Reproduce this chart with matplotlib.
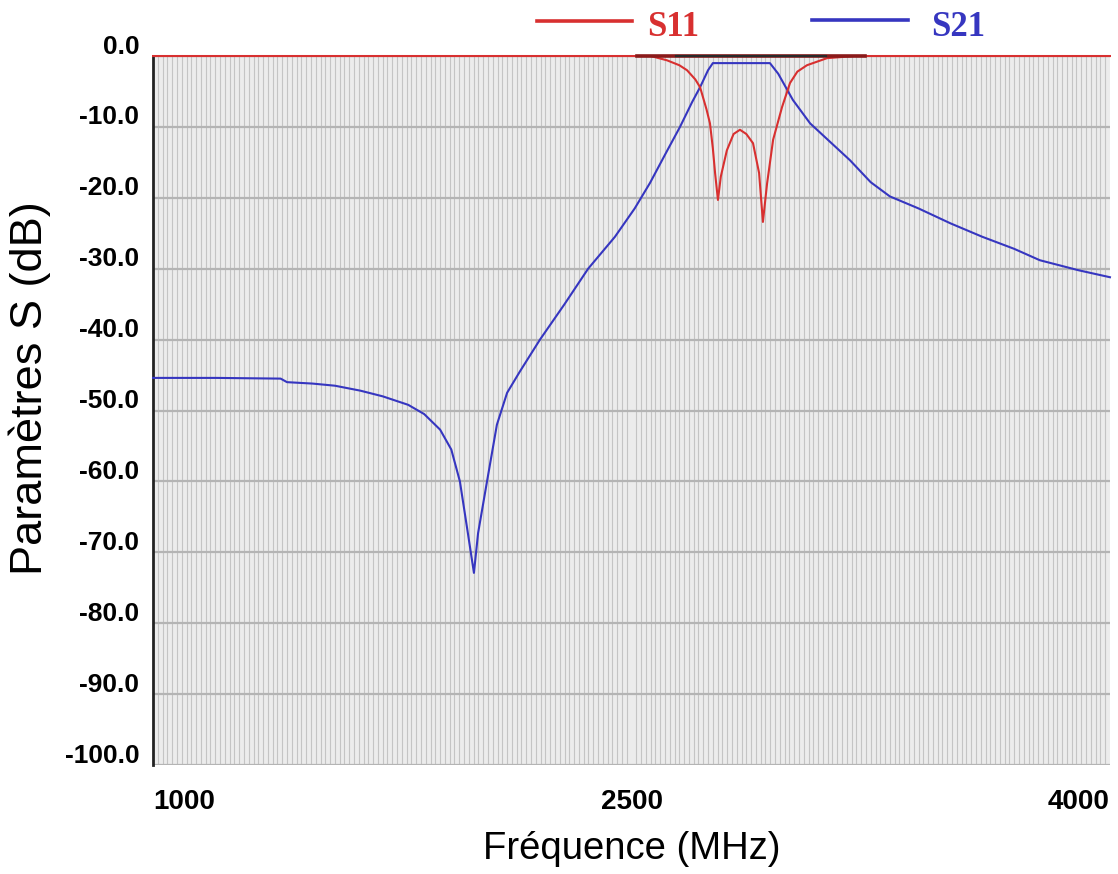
import numpy as np
import matplotlib.pyplot as plt
import matplotlib as mpl
from matplotlib.lines import Line2D
import matplotlib.transforms as mtrans

mpl.rcParams['font.family'] = ['Liberation Sans', 'DejaVu Sans']

# S21 (transmission)
f21 = [1000, 1200, 1400, 1420, 1500, 1570, 1650, 1720, 1800, 1850, 1900, 1935, 1962, 1987,
       2006, 2019, 2047, 2078, 2110, 2150, 2213, 2290, 2364, 2448, 2510, 2558, 2610, 2652,
       2690, 2715, 2740, 2755, 2934, 2960, 3006, 3060, 3120, 3185, 3250, 3310, 3400, 3500,
       3600, 3700, 3780, 3900, 4000]
s21 = [-45.4, -45.4, -45.5, -46.0, -46.2, -46.5, -47.2, -48.0, -49.2, -50.5, -52.7, -55.5,
       -60.0, -67.3, -72.9, -67.3, -60.0, -52.0, -47.5, -44.5, -40.0, -35.0, -30.0, -25.5,
       -21.5, -17.9, -13.5, -10.0, -6.5, -4.4, -2.0, -1.0, -1.0, -2.5, -6.2, -9.5, -12.0,
       -14.7, -17.8, -19.8, -21.5, -23.6, -25.5, -27.2, -28.8, -30.2, -31.2]

# S11 (reflection)
f11 = [1000, 2560, 2611, 2650, 2674, 2700, 2715, 2735, 2746, 2755, 2762, 2771, 2780, 2799,
       2820, 2840, 2860, 2881, 2900, 2912, 2925, 2944, 2972, 2997, 3020, 3050, 3113, 3200, 4000]
s11 = [0, 0, -0.6, -1.3, -2.0, -3.3, -4.4, -7.5, -9.5, -13.0, -16.5, -20.3, -17.0, -13.3,
       -11.0, -10.4, -11.0, -12.3, -16.5, -23.4, -18.0, -11.8, -7.2, -3.8, -2.2, -1.3, -0.3,
       0, 0]

y_ticks = [0, -10, -20, -30, -40, -50, -60, -70, -80, -90, -100]
x_ticks = [1000, 2500, 4000]

red = '#d83030'
blue = '#3636c0'

fig = plt.figure(figsize=(11.18, 8.74), dpi=100)
ax = fig.add_axes([0.1369, 0.1247, 0.8559, 0.8112])
ax.set_facecolor('#ececec')

ax.set_xlim(1000, 4000)
ax.set_ylim(-100, 0)

# grille verticale dense + horizontale tous les 10 dB
ax.set_xticks(np.arange(1000, 4001, 15), minor=True)
ax.grid(which='minor', axis='x', color='#c4c4c4', linewidth=0.8)
ax.set_yticks(y_ticks, [f"{v:.1f}" for v in y_ticks])
ax.grid(which='major', axis='y', color='#b4b4b4', linewidth=1.6)
ax.set_xticks(x_ticks, [str(v) for v in x_ticks])
ax.tick_params(which='both', length=0)
ax.tick_params(axis='y', pad=10, labelsize=19)
ax.tick_params(axis='x', pad=17, labelsize=20)

for lab in ax.get_yticklabels():
    lab.set_fontweight('bold')
    lab.set_transform(lab.get_transform() + mtrans.ScaledTranslation(0, 0.12, fig.dpi_scale_trans))
xl = ax.get_xticklabels()
for lab, ha in zip(xl, ['left', 'center', 'right']):
    lab.set_fontweight('bold')
    lab.set_horizontalalignment(ha)

for side in ['top', 'right', 'bottom']:
    ax.spines[side].set_visible(False)
ax.spines['left'].set_linewidth(2)
ax.spines['left'].set_color('#222222')

ax.plot(f21, s21, color=blue, linewidth=1.5, clip_on=False, zorder=3)
ax.plot(f11, s11, color=red, linewidth=1.5, clip_on=False, zorder=4)
# segment sombre en haut de la bande
ax.plot([2517, 3232], [0, 0], color='#8a1a1a', linewidth=2.6, clip_on=False, zorder=5)
ax.plot([2640, 3110], [0, 0], color='#2a2a2a', linewidth=1.6, clip_on=False, zorder=6)

ax.set_xlabel('Fréquence (MHz)', fontsize=27.5, labelpad=12)
ax.set_ylabel('Paramètres S (dB)', fontsize=32.5)
ax.yaxis.set_label_coords(-0.107, 0.532)

# légende au-dessus du graphique
def fx(px):
    return px / 1118

def fy(py):
    return 1 - py / 874

fig.add_artist(Line2D([fx(537), fx(632)], [fy(21), fy(21)], color=red, linewidth=2.6))
fig.text(fx(647), fy(28), 'S11', color=red, fontsize=25, fontweight='bold',
         family=['Liberation Serif'], va='center', ha='left')
fig.add_artist(Line2D([fx(812), fx(908)], [fy(20), fy(20)], color=blue, linewidth=2.6))
fig.text(fx(931), fy(28), 'S21', color=blue, fontsize=25, fontweight='bold',
         family=['Liberation Serif'], va='center', ha='left')

fig.savefig('out.png', dpi=100)
